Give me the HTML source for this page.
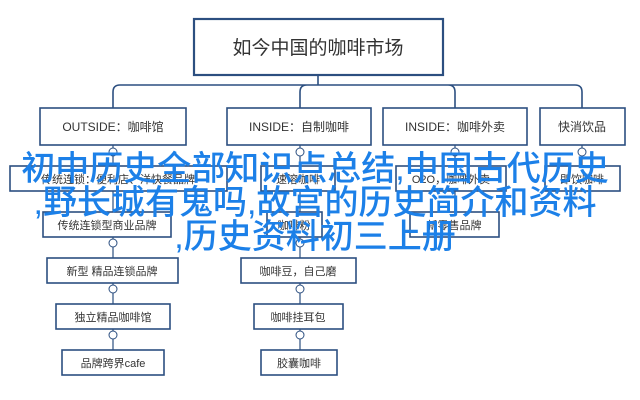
<!DOCTYPE html>
<html><head><meta charset="utf-8"><style>
body{margin:0;width:640px;height:400px;background:#fff;overflow:hidden;position:relative;font-family:"Liberation Sans","Noto Sans CJK SC",sans-serif}
svg{position:absolute;left:0;top:0}
.ov{position:absolute;left:0;top:152px;width:630px;text-align:center;color:#1c80e8;font-size:34px;line-height:34px;font-family:"Liberation Sans","Noto Sans CJK SC",sans-serif;letter-spacing:0;font-weight:500}
</style></head><body>
<svg width="640" height="400" font-family="Liberation Sans, Noto Sans CJK SC, sans-serif" fill="none" stroke="#2c4f80" stroke-width="1.6">
<rect x="194" y="19" width="249" height="56" stroke-width="2.2"/>
<path d="M318 75V85M113 108V92Q113 85 120 85H575Q582 85 582 92V108M300 108V92Q300 85 307 85H448Q455 85 455 92V108"/>
<rect x="40" y="108" width="146" height="37"/>
<rect x="227" y="108" width="144" height="37"/>
<rect x="383" y="108" width="144" height="37"/>
<rect x="540" y="108" width="85" height="37"/>
<path d="M113 145V166M300 145V166M455 145V166M582 145V166M113 191V212M300 191V212M455 191V212M113 237V258M300 237V258M113 283V304M300 283V304M113 329V350M300 329V350" stroke-width="1.2"/>
<g fill="#fff" stroke-width="1"><circle cx="113" cy="152" r="4"/><circle cx="300" cy="152" r="4"/><circle cx="455" cy="152" r="4"/><circle cx="582" cy="152" r="4"/>
<circle cx="113" cy="243" r="4"/><circle cx="300" cy="243" r="4"/><circle cx="113" cy="289" r="4"/><circle cx="300" cy="289" r="4"/><circle cx="113" cy="335" r="4"/><circle cx="300" cy="335" r="4"/></g>
<rect x="10" y="166" width="217" height="25"/>
<rect x="261" y="166" width="74" height="25"/>
<rect x="396" y="166" width="110" height="25"/>
<rect x="545" y="166" width="75" height="25"/>
<rect x="43" y="212" width="128" height="25"/>
<rect x="267" y="212" width="55" height="25"/>
<rect x="410" y="212" width="89" height="25"/>
<rect x="47" y="258" width="131" height="25"/>
<rect x="241" y="258" width="115" height="25"/>
<rect x="56" y="304" width="114" height="25"/>
<rect x="254" y="304" width="89" height="25"/>
<rect x="62" y="350" width="102" height="25"/>
<rect x="261" y="350" width="76" height="25"/>
<g fill="#333" stroke="none" text-anchor="middle" font-size="12">
<text x="318" y="54" font-size="19">如今中国的咖啡市场</text>
<text x="113" y="131">OUTSIDE：咖啡馆</text>
<text x="299" y="131">INSIDE：自制咖啡</text>
<text x="455" y="131">INSIDE：咖啡外卖</text>
<text x="582" y="131">快消饮品</text>
<text x="118" y="183" font-size="11">传统连锁：便利店、洋快餐品牌</text>
<text x="298" y="183" font-size="11">速溶咖啡</text>
<text x="451" y="183" font-size="11">O2O，咖啡外卖</text>
<text x="582" y="183" font-size="11">即饮咖啡</text>
<text x="107" y="229" font-size="11">传统连锁型商业品牌</text>
<text x="294" y="229" font-size="11">咖啡粉</text>
<text x="454" y="229" font-size="11">新零售品牌</text>
<text x="112" y="275" font-size="11">新型 精品连锁品牌</text>
<text x="298" y="275" font-size="11">咖啡豆，自己磨</text>
<text x="113" y="321" font-size="11">独立精品咖啡馆</text>
<text x="298" y="321" font-size="11">咖啡挂耳包</text>
<text x="113" y="367" font-size="11">品牌跨界cafe</text>
<text x="299" y="367" font-size="11">胶囊咖啡</text>
</g>
</svg>
<div class="ov">初中历史全部知识点总结,中国古代历史<br>,野长城有鬼吗,故宫的历史简介和资料<br>,历史资料初三上册</div>
</body></html>
